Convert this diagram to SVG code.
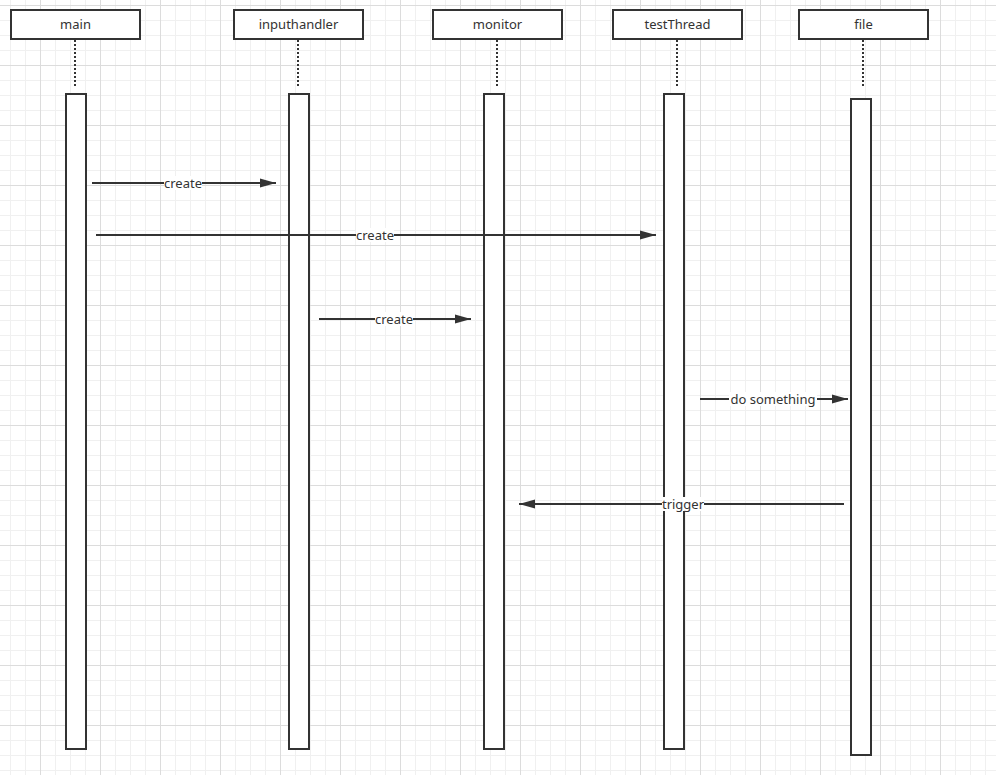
<svg xmlns="http://www.w3.org/2000/svg" width="996" height="775" viewBox="0 0 996 775">
<defs>
<pattern id="grid" x="40" y="5" width="60" height="60" patternUnits="userSpaceOnUse">
<path d="M15.5 0V60M30.5 0V60M45.5 0V60M0 15.5H60M0 30.5H60M0 45.5H60" stroke="#f0f0f0" stroke-width="1" fill="none"/>
<path d="M0.5 0V60M0 0.5H60" stroke="#dcdcdc" stroke-width="1" fill="none"/>
</pattern>
<marker id="arr" markerUnits="userSpaceOnUse" markerWidth="16" markerHeight="10" refX="16" refY="5" orient="auto">
<path d="M0 0.5L16 5L0 9.5Z" fill="#333"/>
</marker>
<style>
.box{fill:#fff;stroke:#333;stroke-width:2}
.act{fill:#fff;stroke:#333;stroke-width:2}
.life{stroke:#333;stroke-width:2;stroke-dasharray:2 2;fill:none}
.t{font-family:"Noto Sans","Liberation Sans",sans-serif;font-size:13px;fill:#333;text-anchor:middle}
.msg{stroke:#333;stroke-width:2;fill:none;marker-end:url(#arr)}
.lbg{fill:#fff}
</style>
</defs>
<rect width="996" height="775" fill="#fff"/>
<rect width="996" height="775" fill="url(#grid)"/>

<g id="main">
<rect class="box" x="11" y="10" width="129" height="29"/>
<text class="t" x="75.5" y="29">main</text>
<line class="life" x1="75" y1="40" x2="75" y2="88"/>
<rect class="act" x="66" y="94" width="20" height="655"/>
</g>
<g id="inputhandler">
<rect class="box" x="234" y="10" width="129" height="29"/>
<text class="t" x="298.5" y="29">inputhandler</text>
<line class="life" x1="298" y1="40" x2="298" y2="88"/>
<rect class="act" x="289" y="94" width="20" height="655"/>
</g>
<g id="monitor">
<rect class="box" x="433" y="10" width="129" height="29"/>
<text class="t" x="497.5" y="29">monitor</text>
<line class="life" x1="497" y1="40" x2="497" y2="88"/>
<rect class="act" x="484" y="94" width="20" height="655"/>
</g>
<g id="testThread">
<rect class="box" x="613" y="10" width="129" height="29"/>
<text class="t" x="677.5" y="29">testThread</text>
<line class="life" x1="677" y1="40" x2="677" y2="88"/>
<rect class="act" x="664" y="94" width="20" height="655"/>
</g>
<g id="file">
<rect class="box" x="799" y="10" width="129" height="29"/>
<text class="t" x="863.5" y="29">file</text>
<line class="life" x1="863" y1="40" x2="863" y2="88"/>
<rect class="act" x="851" y="99" width="20" height="656"/>
</g>

<g id="connectors">
<line class="msg" x1="92" y1="183" x2="276" y2="183"/>
<rect class="lbg" x="164" y="176" width="38" height="14"/>
<text class="t" x="183" y="188">create</text>

<line class="msg" x1="96" y1="235" x2="656" y2="235"/>
<rect class="lbg" x="356" y="228" width="38" height="14"/>
<text class="t" x="375" y="240">create</text>

<line class="msg" x1="319" y1="319" x2="471" y2="319"/>
<rect class="lbg" x="375" y="312" width="38" height="14"/>
<text class="t" x="394" y="324">create</text>

<line class="msg" x1="700" y1="399" x2="848" y2="399"/>
<rect class="lbg" x="729" y="392" width="88" height="14"/>
<text class="t" x="773" y="404">do something</text>

<line class="msg" x1="844" y1="504" x2="519" y2="504"/>
<rect class="lbg" x="662" y="497" width="42" height="14"/>
<text class="t" x="683" y="509">trigger</text>
</g>
</svg>
